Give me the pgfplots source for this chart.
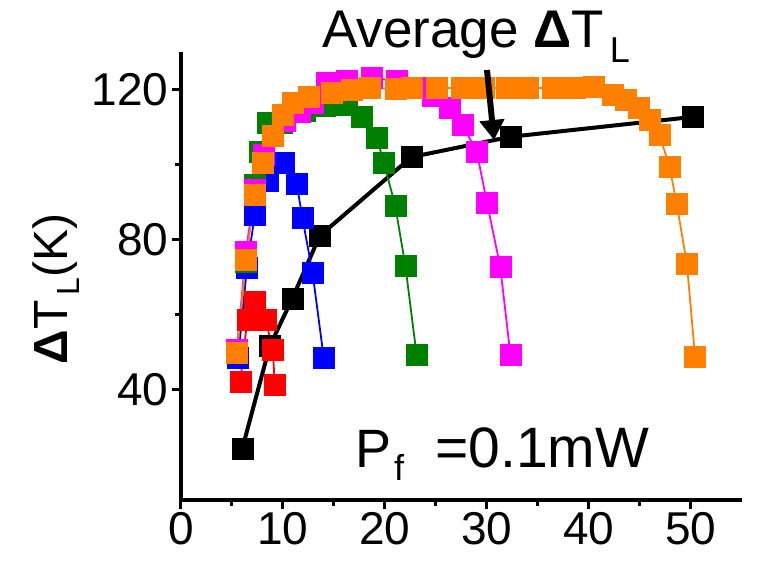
\documentclass[border=0pt]{standalone}
\usepackage{fontspec}
\setmainfont{Liberation Sans}
\usepackage{pgfplots}
\pgfplotsset{compat=1.18}
\usetikzlibrary{arrows.meta}
\definecolor{myorange}{RGB}{255,128,0}
\definecolor{mygreen}{RGB}{0,128,0}
\definecolor{mymagenta}{RGB}{255,0,255}
\begin{document}
\begin{tikzpicture}
\begin{axis}[
 scale only axis, width=561pt, height=448pt, at={(0pt,0pt)}, anchor=south west,
 xmin=0, xmax=55, ymin=10.67, ymax=130.1,
 axis x line*=bottom, axis y line*=left,
 axis line style={line width=3.5pt, -},
 xtick={0,10,...,50}, ytick={40,80,120},
 minor x tick num=1, minor y tick num=1,
 tick align=outside, major tick length=9pt, minor tick length=6pt,
 tick style={line width=3pt, black},
 tick label style={font=\fontsize{46}{50}\selectfont},
 /pgf/number format/assume math mode=true,
 clip=false,
 every axis plot/.append style={mark=square*, mark size=10.5pt, mark options={solid, line width=0.3pt}},
]
% average (black)
\addplot[black, line width=4pt] coordinates {
(6.0,24.3) (8.7,51.7) (10.9,64.3) (13.6,81.1) (22.6,102.1) (32.3,107.5) (50.2,112.8)};
% red
\addplot[red, line width=1.8pt] coordinates {
(5.8,42.1) (6.5,58.7) (7.2,63.5) (8.3,58.7) (9.0,50.7) (9.2,41.3)};
% blue
\addplot[blue, line width=1.8pt] coordinates {
(5.6,48.5) (6.46,72.5) (7.24,86.7) (8.5,95.7) (10.1,100.5) (11.35,94.9) (11.9,85.9) (12.9,71.2) (14.0,48.5)};
% green
\addplot[mygreen, line width=1.8pt] coordinates {
(5.5,50.7) (6.36,74.1) (7.24,94.7) (7.7,103.5) (8.5,111.2) (9.9,111.2) (12.1,114.4) (14.1,115.7) (16.2,116.0) (17.7,112.8) (19.2,107.2) (19.9,100.5) (21.0,89.1) (22.0,73.1) (23.1,49.3)};
% magenta
\addplot[mymagenta, line width=1.8pt] coordinates {
(5.48,50.7) (6.36,76.8) (7.24,93.3) (8.1,102.7) (9.0,107.7) (10.2,111.7) (11.6,114.1) (12.9,116.5) (14.3,121.9) (16.2,122.4) (18.7,123.2) (21.1,122.4) (23.4,120.5) (24.7,118.4) (26.3,115.2) (27.6,110.7) (29.0,103.5) (30.0,89.9) (31.3,72.8) (32.3,49.3)};
% orange
\addplot[myorange, line width=1.8pt] coordinates {
(5.48,49.9) (6.36,74.7) (7.24,92.0) (8.02,100.5) (8.99,107.7) (9.98,113.3) (10.96,116.5) (12.52,118.1) (14.77,119.2) (16.73,120.0) (18.49,120.5) (21.0,120.3) (22.6,120.5) (25.1,120.5) (27.5,120.5) (29.7,120.5) (31.9,120.5) (34.0,120.5) (36.4,120.5) (38.6,120.5) (40.5,120.8) (42.3,118.7) (43.6,117.3) (44.9,115.2) (45.9,112.0) (46.9,108.0) (47.9,99.5) (48.6,89.6) (49.6,73.6) (50.4,48.8)};
\end{axis}
\node[rotate=90, inner sep=0pt, font=\fontsize{48}{52}\selectfont] at (-125pt,211pt)
 {\textbf{Δ}T\hspace{5pt}\raisebox{-12pt}{\fontsize{32}{34}\selectfont L}(K)};
\node[anchor=base west, inner sep=0pt, font=\fontsize{53}{56}\selectfont] at (141pt,452pt)
 {Average \textbf{Δ}T\hspace{6pt}\raisebox{-15pt}{\fontsize{36}{38}\selectfont L}};
\node[anchor=base west, inner sep=0pt, font=\fontsize{54}{58}\selectfont] at (174pt,33pt)
 {P\hspace{3pt}\raisebox{-13pt}{\fontsize{36}{38}\selectfont f}};
\node[anchor=base west, inner sep=0pt, font=\fontsize{57}{60}\selectfont] at (254pt,33pt)
 {=0.1mW};
\draw[line width=6pt, -{Triangle[width=24pt,length=20pt]}] (306pt,430pt) -- (313pt,360pt);
\pgfresetboundingbox
\path[use as bounding box] (-181pt,-63pt) rectangle (577pt,500pt);
\end{tikzpicture}
\end{document}
